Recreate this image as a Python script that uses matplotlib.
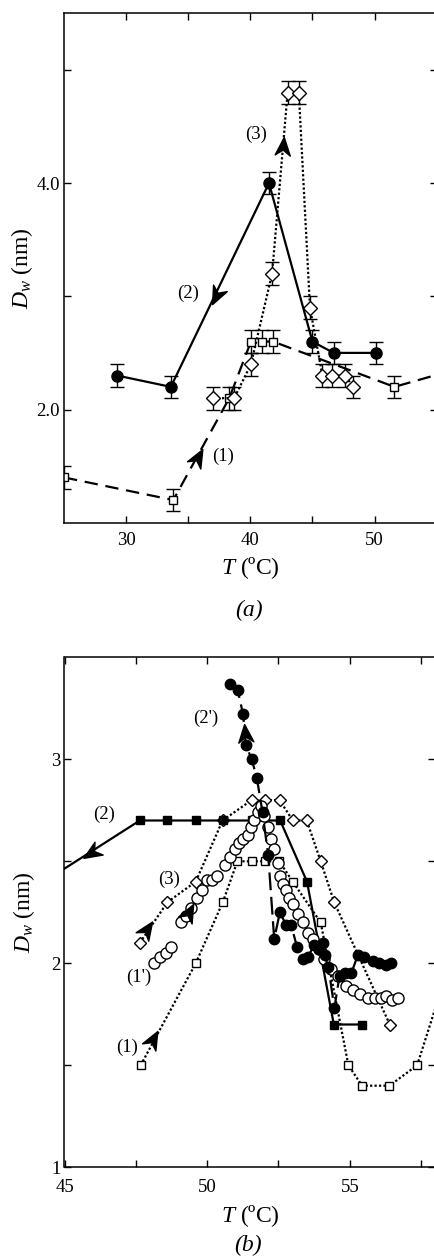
import matplotlib
matplotlib.use('Agg')
import numpy as np
import matplotlib.pyplot as plt
from matplotlib.path import Path
from matplotlib.markers import MarkerStyle
from matplotlib.transforms import Affine2D

plt.rcParams['font.family'] = ['Liberation Serif', 'DejaVu Serif']
plt.rcParams['mathtext.fontset'] = 'custom'
plt.rcParams['mathtext.rm'] = 'Liberation Serif'
plt.rcParams['mathtext.it'] = 'Liberation Serif:italic'

# ---------------- Panel (a) data ----------------
a1_T = [25.0, 33.8, 38.3, 40.05, 40.97, 41.83, 51.6, 58.0]
a1_D = [1.4, 1.2, 2.1, 2.6, 2.6, 2.6, 2.2, 2.4]
a1_err = [0.1, 0.1, 0.1, 0.1, 0.1, 0.1, 0.1, 0.1]

a2_T = [29.27, 33.6, 41.5, 45.0, 46.7, 50.1]
a2_D = [2.3, 2.2, 4.0, 2.6, 2.5, 2.5]
a2_err = [0.1, 0.1, 0.1, 0.1, 0.1, 0.1]

a3_T = [37.0, 38.7, 40.05, 41.75, 43.0, 43.9, 44.8, 45.8, 46.6, 47.6, 48.3]
a3_D = [2.1, 2.1, 2.4, 3.2, 4.8, 4.8, 2.9, 2.3, 2.3, 2.3, 2.2]
a3_err = [0.1, 0.1, 0.1, 0.1, 0.1, 0.1, 0.1, 0.1, 0.1, 0.1, 0.1]

a_xticks = [30, 35, 40, 45, 50]
a_xticklabels = ['30', '', '40', '', '50']
a_yticks = [2.0, 3.0, 4.0, 5.0]
a_yticklabels = ['2.0', '', '4.0', '']

# ---------------- Panel (b) data ----------------
b1_T = [47.67, 49.6, 50.55, 51.06, 51.56, 52.04, 52.53, 53.0, 53.98, 54.95, 55.43, 56.39, 57.36, 58.5]
b1_D = [1.5, 2.0, 2.3, 2.5, 2.5, 2.5, 2.5, 2.4, 2.2, 1.5, 1.4, 1.4, 1.5, 2.0]

b1p_T = [48.14, 48.34, 48.55, 48.75, 49.07, 49.25, 49.43, 49.66, 49.82, 50.0, 50.16, 50.36,
         50.62, 50.8, 50.98, 51.12, 51.24, 51.42, 51.52, 51.63, 51.77, 51.88,
         52.0, 52.12, 52.24, 52.35, 52.47, 52.55, 52.65, 52.76, 52.88, 53.0, 53.17, 53.35,
         53.52, 53.7, 53.93, 54.1, 54.34, 54.58, 54.87, 55.1, 55.34, 55.63, 55.87, 56.1,
         56.28, 56.48, 56.69]
b1p_D = [2.00, 2.03, 2.05, 2.08, 2.20, 2.23, 2.27, 2.32, 2.36, 2.41, 2.41, 2.43,
         2.48, 2.52, 2.56, 2.59, 2.61, 2.63, 2.67, 2.70, 2.74, 2.77,
         2.72, 2.67, 2.61, 2.56, 2.49, 2.43, 2.39, 2.36, 2.32, 2.29, 2.24, 2.20,
         2.15, 2.12, 2.07, 2.02, 1.97, 1.94, 1.89, 1.87, 1.85, 1.83, 1.83, 1.83,
         1.84, 1.82, 1.83]

b2_T = [43.5, 47.64, 48.61, 49.6, 50.57, 51.56, 52.56, 53.5, 54.44, 55.42]
b2_D = [2.33, 2.7, 2.7, 2.7, 2.7, 2.7, 2.7, 2.4, 1.7, 1.7]

b2p_T = [50.81, 51.07, 51.26, 51.36, 51.56, 51.74, 51.94, 52.14, 52.35, 52.55, 52.76, 52.94,
         53.15, 53.35, 53.52, 53.76, 53.93, 54.05, 54.12, 54.25, 54.46, 54.64, 54.82,
         55.05, 55.28, 55.51, 55.8, 56.04, 56.27, 56.45]
b2p_D = [3.37, 3.34, 3.22, 3.07, 3.0, 2.91, 2.74, 2.53, 2.12, 2.25, 2.19, 2.19,
         2.08, 2.02, 2.03, 2.09, 2.07, 2.10, 2.04, 1.98, 1.78, 1.94, 1.95,
         1.95, 2.04, 2.03, 2.01, 2.0, 1.99, 2.0]

b3_T = [47.64, 48.61, 49.6, 50.54, 51.56, 52.04, 52.54, 53.0, 53.49, 53.98, 54.45, 56.4]
b3_D = [2.1, 2.3, 2.4, 2.7, 2.8, 2.8, 2.8, 2.7, 2.7, 2.5, 2.3, 1.7]

b_xticks = [45, 47.5, 50, 52.5, 55, 57.5]
b_xticklabels = ['45', '', '50', '', '55', '']
b_yticks = [1, 1.5, 2, 2.5, 3]
b_yticklabels = ['1', '', '2', '', '3']

W, H = 435, 1256
fig = plt.figure(figsize=(W / 100, H / 100), dpi=100)

def ax_rect(l, t, r, b):
    return [l / W, 1 - b / H, (r - l) / W, (b - t) / H]

axa = fig.add_axes(ax_rect(64, 13.3, 436.7, 522.7))
axb = fig.add_axes(ax_rect(64.5, 657.3, 435.4, 1167.3))

def style(ax, xpad):
    for s in ax.spines.values():
        s.set_linewidth(1.1)
    ax.tick_params(direction='in', top=True, right=True, length=5, width=1,
                   labelsize=13.5)
    ax.tick_params(axis='x', pad=xpad)
    ax.tick_params(axis='y', pad=3)

STEALTH = Path([(0.5, 0.0), (-0.5, 0.42), (-0.2, 0.0), (-0.5, -0.42), (0.5, 0.0)],
               [Path.MOVETO, Path.LINETO, Path.LINETO, Path.LINETO, Path.CLOSEPOLY])

def head(ax, center, frm, to, ms=13):
    p0 = ax.transData.transform(frm)
    p1 = ax.transData.transform(to)
    ang = np.degrees(np.arctan2(p1[1] - p0[1], p1[0] - p0[0]))
    m = MarkerStyle(STEALTH, transform=Affine2D().rotate_deg(ang))
    ax.plot([center[0]], [center[1]], marker=m, ms=ms, color='k', ls='none', zorder=6)

# ---------- (a) ----------
ax = axa
ax.set_xlim(25, 55)
ax.set_ylim(1.0, 5.5)
dash = (0, (6, 3.5))
ax.errorbar(a1_T, a1_D, yerr=a1_err, fmt='none', ecolor='k', elinewidth=1, capsize=5, capthick=1)
ax.plot(a1_T, a1_D, color='k', ls=dash, lw=1.6, marker='s', ms=6, mfc='white', mec='k', mew=1)
ax.errorbar(a3_T, a3_D, yerr=a3_err, fmt='none', ecolor='k', elinewidth=1, capsize=5, capthick=1)
ax.plot(a3_T, a3_D, color='k', ls=(0, (1, 1)), lw=1.6, marker='D', ms=7, mfc='white', mec='k', mew=1)
ax.errorbar(a2_T, a2_D, yerr=a2_err, fmt='none', ecolor='k', elinewidth=1, capsize=5, capthick=1)
ax.plot(a2_T, a2_D, color='k', ls='-', lw=1.6, marker='o', ms=8, mfc='k', mec='k')
ax.set_xticks(a_xticks)
ax.set_xticklabels(a_xticklabels)
ax.set_yticks(a_yticks)
ax.set_yticklabels(a_yticklabels)
style(ax, 7)
ax.set_xlabel(r'$T$ (ºC)', fontsize=17, labelpad=4)
ax.set_ylabel(r'$D_w$ (nm)', fontsize=17, labelpad=1)
head(ax, (35.75, 1.58), (33.8, 1.2), (38.3, 2.1))
head(ax, (37.2, 3.0), (41.5, 4.0), (33.6, 2.2))
head(ax, (42.6, 4.33), (41.75, 3.2), (43.0, 4.8))
ax.text(37.8, 1.59, '(1)', fontsize=13.5, ha='center', va='center')
ax.text(35.0, 3.03, '(2)', fontsize=13.5, ha='center', va='center')
ax.text(40.5, 4.43, '(3)', fontsize=13.5, ha='center', va='center')
fig.text(249 / W, 1 - 610 / H, '(a)', fontsize=17, style='italic', ha='center', va='center')

# ---------- (b) ----------
ax = axb
ax.set_xlim(45, 58)
ax.set_ylim(1, 3.5)
ax.plot(b1_T, b1_D, color='k', ls=(0, (1, 1)), lw=1.6, marker='s', ms=6, mfc='white', mec='k', mew=1)
ax.plot(b3_T, b3_D, color='k', ls=(0, (1, 1)), lw=1.6, marker='D', ms=6.5, mfc='white', mec='k', mew=1)
ax.plot(b2_T, b2_D, color='k', ls='-', lw=1.6, marker='s', ms=6, mfc='k', mec='k')
ax.plot(b1p_T, b1p_D, ls='none', marker='o', ms=8, mfc='white', mec='k', mew=1)
ax.plot(b2p_T, b2p_D, color='k', ls=(0, (8, 3)), lw=1.6, marker='o', ms=7.5, mfc='k', mec='k')
ax.set_xticks(b_xticks)
ax.set_xticklabels(b_xticklabels)
ax.set_yticks(b_yticks)
ax.set_yticklabels(b_yticklabels)
style(ax, 8.5)
ax.set_xlabel(r'$T$ (ºC)', fontsize=17, labelpad=5)
ax.set_ylabel(r'$D_w$ (nm)', fontsize=17, labelpad=10)
head(ax, (48.1, 1.63), (47.67, 1.5), (49.6, 2.0))
head(ax, (49.37, 2.25), (49.07, 2.17), (49.66, 2.33))
head(ax, (45.94, 2.54), (47.64, 2.7), (43.5, 2.33))
head(ax, (47.9, 2.17), (47.64, 2.1), (48.61, 2.3))
head(ax, (51.33, 3.13), (51.36, 3.07), (51.26, 3.22))
ax.text(47.2, 1.59, '(1)', fontsize=13.5, ha='center', va='center')
ax.text(47.6, 1.93, "(1')", fontsize=13.5, ha='center', va='center')
ax.text(46.38, 2.73, '(2)', fontsize=13.5, ha='center', va='center')
ax.text(49.95, 3.2, "(2')", fontsize=13.5, ha='center', va='center')
ax.text(48.65, 2.41, '(3)', fontsize=13.5, ha='center', va='center')
fig.text(248 / W, 1 - 1245 / H, '(b)', fontsize=17, style='italic', ha='center', va='center')

fig.savefig('out.png', dpi=100)
